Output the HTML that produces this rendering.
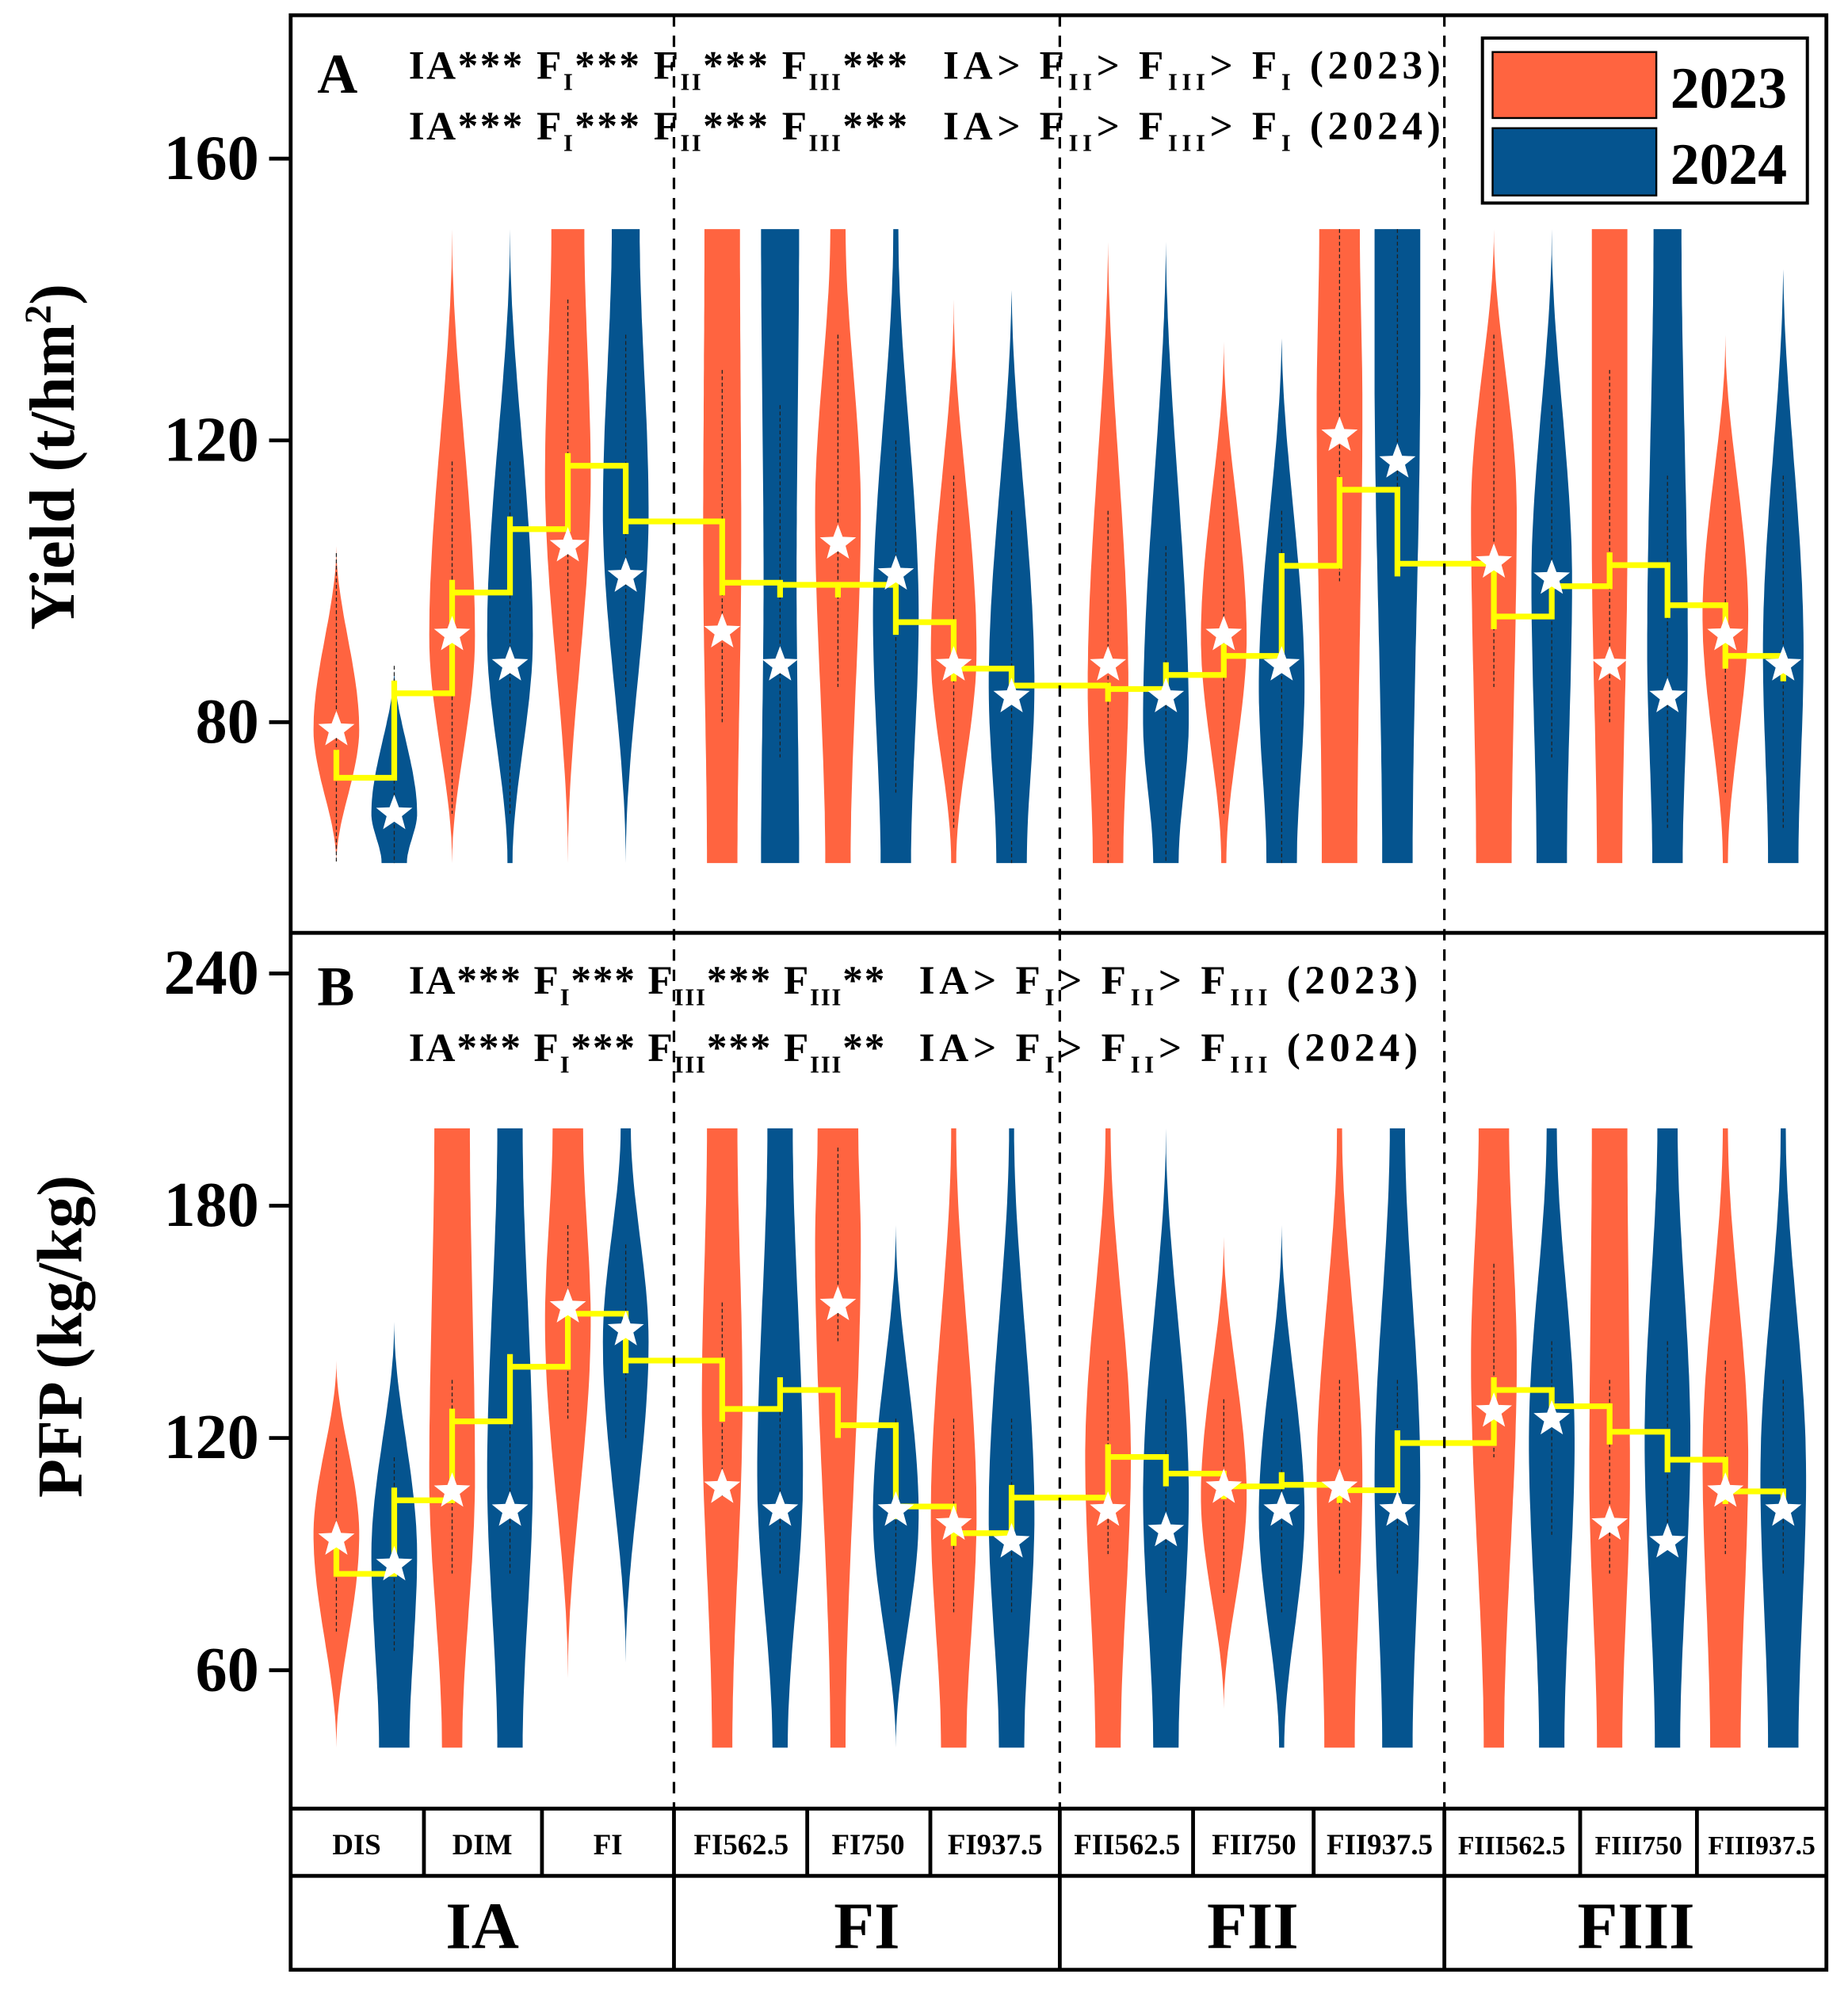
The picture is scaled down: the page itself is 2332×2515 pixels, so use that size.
<!DOCTYPE html>
<html><head><meta charset="utf-8"><style>
html,body{margin:0;padding:0;background:#fff}
svg{display:block}
text{font-family:"Liberation Serif",serif;font-weight:bold;fill:#000}
</style></head><body>
<svg id="chart" width="2332" height="2515" viewBox="0 0 1456 1570.3" xmlns="http://www.w3.org/2000/svg">
<g id="violins"></g>
<g id="steps"></g>
<g id="stars"></g>
<g id="axes"></g>

<g stroke="#000" stroke-width="3" fill="none">
<rect x="229" y="12" width="1210" height="1540"/>
<line x1="229" y1="735" x2="1439" y2="735"/>
<line x1="229" y1="1425" x2="1439" y2="1425"/>
<line x1="229" y1="1478" x2="1439" y2="1478"/>
</g>
<g stroke="#000" stroke-width="2" stroke-dasharray="9,7">
<line x1="531" y1="12" x2="531" y2="1425"/>
<line x1="835" y1="12" x2="835" y2="1425"/>
<line x1="1138" y1="12" x2="1138" y2="1425"/>
</g>
<g stroke="#000" stroke-width="3">
<line x1="334" y1="1425" x2="334" y2="1478"/><line x1="427" y1="1425" x2="427" y2="1478"/>
<line x1="531" y1="1425" x2="531" y2="1552"/><line x1="636" y1="1425" x2="636" y2="1478"/>
<line x1="733" y1="1425" x2="733" y2="1478"/><line x1="835" y1="1425" x2="835" y2="1552"/>
<line x1="940" y1="1425" x2="940" y2="1478"/><line x1="1035" y1="1425" x2="1035" y2="1478"/>
<line x1="1138" y1="1425" x2="1138" y2="1552"/><line x1="1245" y1="1425" x2="1245" y2="1478"/>
<line x1="1337" y1="1425" x2="1337" y2="1478"/>
</g>
<g font-size="23" text-anchor="middle">
<text x="281" y="1461">DIS</text><text x="380" y="1461">DIM</text><text x="479" y="1461">FI</text>
<text x="584" y="1461">FI562.5</text><text x="684" y="1461">FI750</text><text x="784" y="1461">FI937.5</text>
<text x="888" y="1461">FII562.5</text><text x="988" y="1461">FII750</text><text x="1087" y="1461">FII937.5</text>
<text x="1191" y="1461" font-size="21">FIII562.5</text><text x="1291" y="1461" font-size="21">FIII750</text><text x="1388" y="1461" font-size="21">FIII937.5</text>
</g>
<g font-size="52" text-anchor="middle">
<text x="380" y="1535">IA</text><text x="683" y="1535">FI</text><text x="987" y="1535">FII</text><text x="1289" y="1535">FIII</text>
</g>

<g font-size="32">
<text x="250" y="73" font-size="44">A</text>
<text x="322" y="62" textLength="393" lengthAdjust="spacing">IA*** F<tspan font-size="19" dy="9">I</tspan><tspan dy="-9">*** F</tspan><tspan font-size="19" dy="9">II</tspan><tspan dy="-9">*** F</tspan><tspan font-size="19" dy="9">III</tspan><tspan dy="-9">***</tspan></text>
<text x="743" y="62" textLength="392" lengthAdjust="spacing">IA&gt; F<tspan font-size="19" dy="9">II</tspan><tspan dy="-9">&gt; F</tspan><tspan font-size="19" dy="9">III</tspan><tspan dy="-9">&gt; F</tspan><tspan font-size="19" dy="9">I</tspan><tspan dy="-9"> (2023)</tspan></text>
<text x="322" y="110" textLength="393" lengthAdjust="spacing">IA*** F<tspan font-size="19" dy="9">I</tspan><tspan dy="-9">*** F</tspan><tspan font-size="19" dy="9">II</tspan><tspan dy="-9">*** F</tspan><tspan font-size="19" dy="9">III</tspan><tspan dy="-9">***</tspan></text>
<text x="743" y="110" textLength="392" lengthAdjust="spacing">IA&gt; F<tspan font-size="19" dy="9">II</tspan><tspan dy="-9">&gt; F</tspan><tspan font-size="19" dy="9">III</tspan><tspan dy="-9">&gt; F</tspan><tspan font-size="19" dy="9">I</tspan><tspan dy="-9"> (2024)</tspan></text>
</g>
<g font-size="32">
<text x="250" y="792" font-size="44">B</text>
<text x="322" y="783" textLength="375" lengthAdjust="spacing">IA*** F<tspan font-size="19" dy="9">I</tspan><tspan dy="-9">*** F</tspan><tspan font-size="19" dy="9">III</tspan><tspan dy="-9">*** F</tspan><tspan font-size="19" dy="9">III</tspan><tspan dy="-9">**</tspan></text>
<text x="724" y="783" textLength="393" lengthAdjust="spacing">IA&gt; F<tspan font-size="19" dy="9">I</tspan><tspan dy="-9">&gt; F</tspan><tspan font-size="19" dy="9">II</tspan><tspan dy="-9">&gt; F</tspan><tspan font-size="19" dy="9">III</tspan><tspan dy="-9"> (2023)</tspan></text>
<text x="322" y="836" textLength="375" lengthAdjust="spacing">IA*** F<tspan font-size="19" dy="9">I</tspan><tspan dy="-9">*** F</tspan><tspan font-size="19" dy="9">III</tspan><tspan dy="-9">*** F</tspan><tspan font-size="19" dy="9">III</tspan><tspan dy="-9">**</tspan></text>
<text x="724" y="836" textLength="393" lengthAdjust="spacing">IA&gt; F<tspan font-size="19" dy="9">I</tspan><tspan dy="-9">&gt; F</tspan><tspan font-size="19" dy="9">II</tspan><tspan dy="-9">&gt; F</tspan><tspan font-size="19" dy="9">III</tspan><tspan dy="-9"> (2024)</tspan></text>
</g>

<g>
<rect x="1168" y="30" width="256" height="130" fill="#fff" stroke="#000" stroke-width="2.5"/>
<rect x="1176" y="41" width="129" height="52" fill="#FF6440" stroke="#000" stroke-width="1.5"/>
<rect x="1176" y="101" width="129" height="53" fill="#05548F" stroke="#000" stroke-width="1.5"/>
<text x="1316" y="85" font-size="46">2023</text>
<text x="1316" y="145" font-size="46">2024</text>
</g>

<text transform="translate(58,360) rotate(-90)" text-anchor="middle" font-size="50">Yield (t/hm<tspan font-size="30" dy="-18">2</tspan><tspan dy="18">)</tspan></text>
<text transform="translate(64,1053) rotate(-90)" text-anchor="middle" font-size="50">PFP (kg/kg)</text>
</svg>
<script>
const categories = ["DIS","DIM","FI","FI562.5","FI750","FI937.5","FII562.5","FII750","FII937.5","FIII562.5","FIII750","FIII937.5"];
const years = ["2023","2024"];
const yieldMeans = [78.9,67.0, 92.4,88.1, 105,100.7, 92.8,88.1, 105.4,101, 88.1,83.6, 88.1,83.6, 92.4,88.1, 120.7,116.9, 102.7,100.4, 88.1,83.6, 92.4,88.1];
const yieldSteps = [72.1,84.1,98.4,107.4,116.4,108.5,99.8,99.5,99.5,94.2,87.6,85.2,84.7,86.7,89.4,102.2,113,102.5,95,99.3,102.3,96.6,89.4];
const yieldLo   = [60,60,60,60,60,60,60,60,60,60,60,60,60,60,60,60,60,60,60,60,60,60,60,60];
const yieldHi   = [105,88,150,150,150,150,150,150,150,150,140,143,150,150,134,136,150,150,150,150,150,150,135,146];
const yieldPeak = [79,67,92,92,115,110,105,100,110,95,90,85,85,80,92,85,125,130,110,100,105,90,95,90];
const yieldTopW = [0,0,0,0,13,11,14,15,6,2,0,0,0,0,0,0,16,18,0,0,14,11,0,0];
const yieldBotW = [0,10,0,2,0,0,12,15,10,12,2,12,12,10,2,12,14,12,14,12,10,12,2,12];
const yieldPeakW= [18,18,18,18,18,18,15,13,18,18,18,18,16,18,18,18,18,18,18,16,14,16,18,16];

const pfpMeans = [93.8,87.2, 106.2,101.3, 153.8,147.9, 107.2,101.3, 154.4,101.3, 97.7,93.1, 101.3,96, 107.2,101.3, 107.2,101.3, 126.9,124.9, 97.7,93.1, 106.2,101.3];
const pfpSteps = [84.9,103.9,124.3,138.4,152.1,140,127.5,132.4,123.3,102.3,95.4,104.6,115.1,110.8,107.5,107.9,106.5,118.7,132.4,128.2,121.6,114.4,106.2];
const pfpLo   = [40,40,40,40,58,62,40,40,40,40,40,40,40,40,50,40,40,40,40,40,40,40,40,40];
const pfpHi   = [140,150,200,200,200,200,200,200,200,175,200,200,200,200,172,175,200,200,200,200,200,200,200,200];
const pfpPeak = [95,90,110,110,150,145,130,110,170,100,100,100,115,105,105,100,110,110,140,120,110,120,115,110];
const pfpTopW = [0,0,14,10,12,4,12,10,16,0,2,2,2,0,0,0,2,6,12,4,14,8,2,2];
const pfpBotW = [0,12,8,10,0,0,8,6,6,0,10,10,10,10,0,2,12,12,8,10,10,10,12,12];
const pfpPeakW= [18,18,18,18,18,18,16,18,18,18,18,18,18,18,18,18,18,18,18,18,16,18,18,18];

const yieldTicks = [80,120,160];
const pfpTicks = [60,120,180,240];

const NS="http://www.w3.org/2000/svg";
function xPos(i){const g=i<6?0:i<12?1:i<18?2:3;return 265+i*45.6+g*30.4;}
function yA(v){return 125+(160-v)*222/40;}
function yB(v){return 767+(240-v)*183/60;}
const COL=["#FF6440","#05548F"];
function mk(tag,attrs,parent){const e=document.createElementNS(NS,tag);for(const k in attrs)e.setAttribute(k,attrs[k]);parent.appendChild(e);return e;}
function ss(t){t=Math.max(0,Math.min(1,t));return t*t*(3-2*t);}

function drawViolins(lo,hi,pk,tw,bw,pw,ys,panel){
  const g=document.getElementById('violins');
  for(let i=0;i<lo.length;i++){
    const cx=xPos(i);const n=50;const L=[],R=[];
    for(let k=0;k<=n;k++){
      const v=lo[i]+(hi[i]-lo[i])*k/n;let w;
      if(v<=pk[i]){const t=(v-lo[i])/Math.max(1e-6,pk[i]-lo[i]);w=bw[i]+(pw[i]-bw[i])*ss(t);}
      else{const t=(v-pk[i])/Math.max(1e-6,hi[i]-pk[i]);w=pw[i]+(tw[i]-pw[i])*ss(t);}
      const y=ys(v);L.push([cx-w,y]);R.push([cx+w,y]);
    }
    const pts=L.concat(R.reverse()).map(p=>p[0].toFixed(1)+","+p[1].toFixed(1)).join(" ");
    const el=mk('polygon',{points:pts,fill:COL[i%2]},g);
    
    
    const ln=mk('line',{x1:cx,x2:cx,y1:ys(Math.min(hi[i],pk[i]+25)),y2:ys(Math.max(lo[i],pk[i]-25)),stroke:"#222","stroke-width":0.8,"stroke-dasharray":"3,2"},g);
    
    
  }
}
function starPath(cx,cy,r){let s="";for(let k=0;k<10;k++){const a=-Math.PI/2+k*Math.PI/5;const rr=k%2?r*0.42:r;s+=(k?"L":"M")+(cx+rr*Math.cos(a)).toFixed(1)+","+(cy+rr*Math.sin(a)).toFixed(1);}return s+"Z";}
function drawStars(m,ys,panel){
  const g=document.getElementById('stars');
  m.forEach((v,i)=>{const el=mk('path',{d:starPath(xPos(i),ys(v),15),fill:"#fff"},g);
    
    });
}
function drawSteps(s,ys,panel){
  const g=document.getElementById('steps');
  let d="";
  for(let i=0;i<s.length;i++){
    const x0=xPos(i),x1=xPos(i+1),y=ys(s[i]);
    if(i===0)d+="M"+x0+","+(y-22);
    d+="L"+x0+","+y+"L"+x1+","+y;
    if(i<s.length-1){const yn=ys(s[i+1]);const ov=yn<y?-10:10;d+="L"+x1+","+(yn+ov)+"M"+x1+","+yn;}
    else d+="L"+x1+","+(y+20);
  }
  const el=mk('path',{d:d,fill:"none",stroke:"#FFFF00","stroke-width":4.5},g);
  
  
}
function drawAxis(ticks,ys,panel){
  const g=document.getElementById('axes');
  ticks.forEach(t=>{const y=ys(t);
    const l=mk('line',{x1:212,x2:229,y1:y,y2:y,stroke:"#000","stroke-width":3},g);
    
    
    const tx=mk('text',{x:204,y:y+16,"text-anchor":"end","font-size":50},g);tx.textContent=t;
    
    });
}
drawViolins(yieldLo,yieldHi,yieldPeak,yieldTopW,yieldBotW,yieldPeakW,yA,'yield');
drawViolins(pfpLo,pfpHi,pfpPeak,pfpTopW,pfpBotW,pfpPeakW,yB,'pfp');
drawSteps(yieldSteps,yA,'yield');drawSteps(pfpSteps,yB,'pfp');
drawStars(yieldMeans,yA,'yield');drawStars(pfpMeans,yB,'pfp');
drawAxis(yieldTicks,yA,'yield');drawAxis(pfpTicks,yB,'pfp');
</script>
</body></html>
